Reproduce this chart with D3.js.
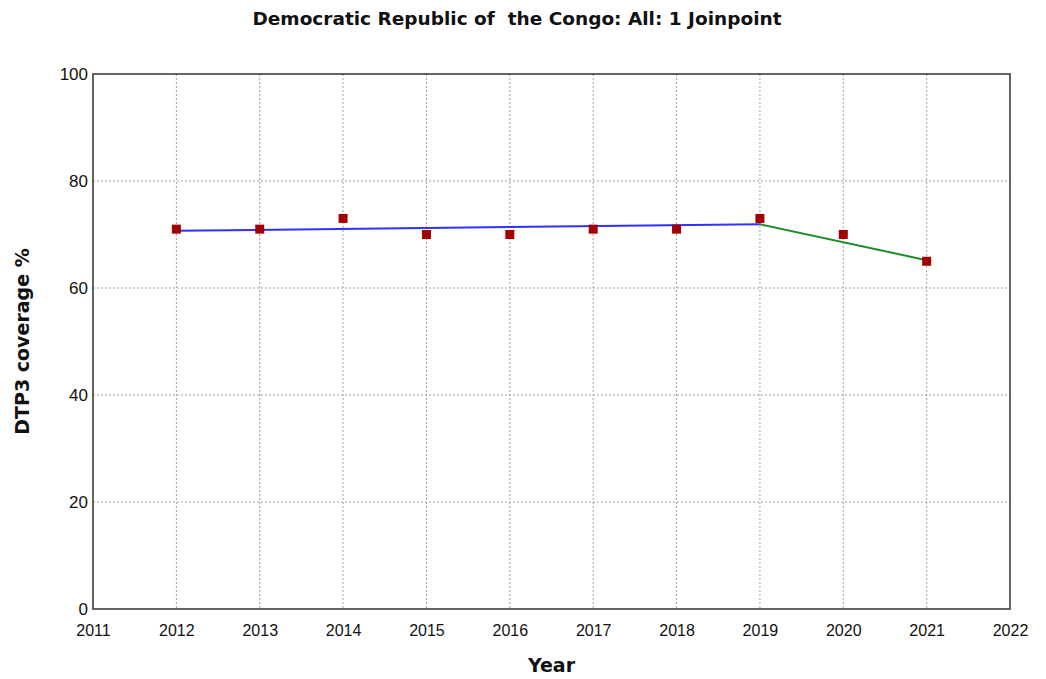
<!DOCTYPE html>
<html>
<head>
<meta charset="utf-8">
<script src="https://cdn.jsdelivr.net/npm/d3@7"></script>
<style>
  body { margin: 0; background: #fff; }
  .grid line { stroke: #a0a0a0; stroke-dasharray: 2,2; stroke-width: 1; }
</style>
</head>
<body>
<div id="chart"></div>
<script>
// data
var years = [2012, 2013, 2014, 2015, 2016, 2017, 2018, 2019, 2020, 2021];
var coverage = [71, 71, 73, 70, 70, 71, 71, 73, 70, 65];

// joinpoint fit: segment 1 (2012-2019), segment 2 (2019-2021)
var seg1Years = [2012, 2019];
var seg1Fit = [70.7, 71.9];
var seg2Years = [2019, 2021];
var seg2Fit = [71.9, 65.2];

var xTicks = [2011, 2012, 2013, 2014, 2015, 2016, 2017, 2018, 2019, 2020, 2021, 2022];
var yTicks = [0, 20, 40, 60, 80, 100];

var W = 1046, H = 679;
var margin = {left: 93, right: 36, top: 74, bottom: 70};
var width = W - margin.left - margin.right;
var height = H - margin.top - margin.bottom;

var tickFont = "'Liberation Sans', Arial, sans-serif";
var titleFont = "'DejaVu Sans', Verdana, sans-serif";

var svg = d3.select("#chart").append("svg")
    .attr("width", W).attr("height", H);

var g = svg.append("g")
    .attr("transform", "translate(" + margin.left + "," + margin.top + ")");

var x = d3.scaleLinear().domain([2011, 2022]).range([0, width]);
var y = d3.scaleLinear().domain([0, 100]).range([height, 0]);

//grid lines
var grid = g.append("g").attr("class", "grid");
grid.selectAll(".vg").data(xTicks.slice(1, -1)).enter().append("line")
    .attr("x1", d => x(d)).attr("x2", d => x(d))
    .attr("y1", 0).attr("y2", height);
grid.selectAll(".hg").data(yTicks.slice(1, -1)).enter().append("line")
    .attr("x1", 0).attr("x2", width)
    .attr("y1", d => y(d)).attr("y2", d => y(d));

//frame
g.append("rect")
    .attr("x", 0).attr("y", 0)
    .attr("width", width).attr("height", height)
    .attr("fill", "none").attr("stroke", "#333").attr("stroke-width", 1.5);

//axes
var xAxis = g.append("g")
    .attr("transform", "translate(0," + height + ")")
    .call(d3.axisBottom(x).tickValues(xTicks).tickFormat(d3.format("d")).tickSize(0).tickPadding(16));
xAxis.select(".domain").remove();
xAxis.selectAll("text").style("font-family", tickFont).style("font-size", "16px").attr("fill", "#111");

var yAxis = g.append("g")
    .call(d3.axisLeft(y).tickValues(yTicks).tickSize(0).tickPadding(5));
yAxis.select(".domain").remove();
yAxis.selectAll("text").style("font-family", tickFont).style("font-size", "17px").attr("fill", "#111");

//fitted segments
var line = d3.line().x(d => x(d[0])).y(d => y(d[1]));

g.append("path")
    .datum(d3.zip(seg1Years, seg1Fit))
    .attr("d", line)
    .attr("fill", "none").attr("stroke", "#3030ff").attr("stroke-width", 2);

g.append("path")
    .datum(d3.zip(seg2Years, seg2Fit))
    .attr("d", line)
    .attr("fill", "none").attr("stroke", "#1f8c2a").attr("stroke-width", 2);

//observed points
var s = 9;
g.selectAll(".pt").data(d3.zip(years, coverage)).enter().append("rect")
    .attr("x", d => x(d[0]) - s / 2)
    .attr("y", d => y(d[1]) - s / 2)
    .attr("width", s).attr("height", s)
    .attr("fill", "#a30000");

//titles
svg.append("text")
    .attr("x", 517).attr("y", 25)
    .attr("text-anchor", "middle")
    .style("font-family", titleFont).style("font-weight", "bold").style("font-size", "18.5px")
    .style("white-space", "pre")
    .attr("fill", "#111")
    .text("Democratic Republic of  the Congo: All: 1 Joinpoint");

svg.append("text")
    .attr("x", margin.left + width / 2).attr("y", 672)
    .attr("text-anchor", "middle")
    .style("font-family", titleFont).style("font-weight", "bold").style("font-size", "19px")
    .attr("fill", "#111")
    .text("Year");

svg.append("text")
    .attr("transform", "translate(29," + (margin.top + height / 2) + ") rotate(-90)")
    .attr("text-anchor", "middle")
    .style("font-family", titleFont).style("font-weight", "bold").style("font-size", "19px")
    .attr("fill", "#111")
    .text("DTP3 coverage %");
</script>
</body>
</html>
